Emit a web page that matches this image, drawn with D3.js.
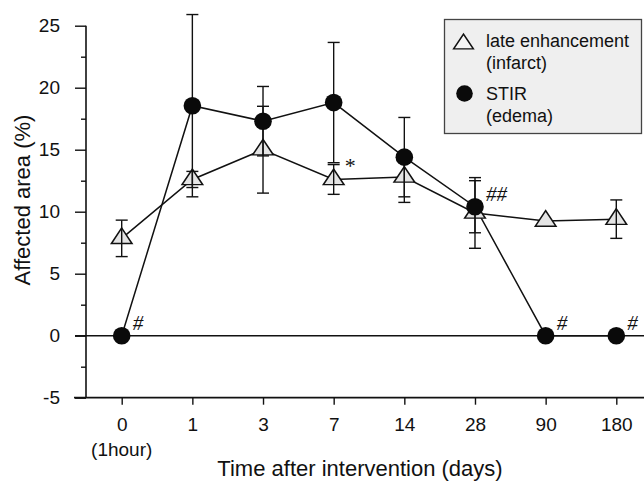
<!DOCTYPE html>
<html>
<head>
<meta charset="utf-8">
<script src="https://cdn.jsdelivr.net/npm/d3@7"></script>
<style>
  body { margin: 0; background: #fff; }
  svg { display: block; font-family: "Liberation Sans", Arial, sans-serif; }
</style>
</head>
<body>
<div id="chart"></div>
<script>
// categories on the x axis (days after intervention)
var categories = ["0", "1", "3", "7", "14", "28", "90", "180"];
var subLabels = ["(1hour)", "", "", "", "", "", "", ""];

// late enhancement (infarct), mean and error
var lateEnh = [7.85, 12.6, 15.0, 12.6, 12.8, 9.9, 9.25, 9.4];
var lateEnhErr = [1.47, 0.65, 3.5, 1.2, 2.05, 2.85, 0, 1.55];

// STIR (edema), mean and error
var stir = [0, 18.55, 17.3, 18.8, 14.4, 10.4, 0, 0];
var stirErr = [0, 7.35, 2.8, 4.85, 3.2, 2.1, 0, 0];

// y ticks
var majorTicks = [-5, 0, 5, 10, 15, 20, 25];
var minorTicks = [-2.5, 2.5, 7.5, 12.5, 17.5, 22.5];

// significance marks
var markCats = ["0", "7", "28", "90", "180"];
var markValues = [0, 12.6, 10.4, 0, 0];
var markTexts = ["#", "*", "##", "#", "#"];

var legendLabels = [["late enhancement", "(infarct)"], ["STIR", "(edema)"]];

var width = 644, height = 482;

var svg = d3.select("#chart").append("svg")
  .attr("width", width)
  .attr("height", height);

var x = d3.scalePoint().domain(categories).range([121.7, 616.3]);
var y = d3.scaleLinear().domain([-5, 25]).range([397.7, 25.7]);
var axisX = 86;

// y axis: minor then major ticks
svg.append("g")
  .attr("transform", "translate(" + axisX + ",0)")
  .call(d3.axisLeft(y).tickValues(minorTicks).tickSize(5).tickFormat(""))
  .call(function(g) { g.select(".domain").remove(); })
  .selectAll("line").attr("stroke", "#111").attr("stroke-width", 1.4);

var yAxis = svg.append("g")
  .attr("transform", "translate(" + axisX + ",0)")
  .call(d3.axisLeft(y).tickValues(majorTicks).tickSize(11).tickPadding(15)
    .tickFormat(function(d) { return String(d); }));
yAxis.select(".domain").remove();
yAxis.selectAll("line").attr("stroke", "#111").attr("stroke-width", 1.4);
yAxis.selectAll("text")
  .attr("font-size", 19)
  .attr("font-family", "Liberation Sans, Arial, sans-serif")
  .attr("fill", "#111");

svg.append("line")
  .attr("x1", axisX).attr("x2", axisX)
  .attr("y1", y(25)).attr("y2", y(-5))
  .attr("stroke", "#111").attr("stroke-width", 1.6);

// x axis at the bottom (-5) and zero line
var xAxis = svg.append("g")
  .attr("transform", "translate(0," + y(-5) + ")")
  .call(d3.axisBottom(x).tickSize(7).tickPadding(13));
xAxis.select(".domain").remove();
xAxis.selectAll("line").attr("stroke", "#111").attr("stroke-width", 1.4);
xAxis.selectAll("text")
  .attr("font-size", 19)
  .attr("font-family", "Liberation Sans, Arial, sans-serif")
  .attr("fill", "#111");

svg.append("line")
  .attr("x1", 74).attr("x2", width)
  .attr("y1", y(-5)).attr("y2", y(-5))
  .attr("stroke", "#111").attr("stroke-width", 1.7);

svg.append("line")
  .attr("x1", 75).attr("x2", width)
  .attr("y1", y(0)).attr("y2", y(0))
  .attr("stroke", "#111").attr("stroke-width", 1.6);

svg.selectAll(".sublabel")
  .data(categories)
  .enter().append("text")
  .attr("class", "sublabel")
  .attr("x", function(d) { return x(d); })
  .attr("y", 456)
  .attr("text-anchor", "middle")
  .attr("font-size", 19)
  .attr("fill", "#111")
  .text(function(d, i) { return subLabels[i]; });

// axis titles
svg.append("text")
  .attr("x", 360)
  .attr("y", 476)
  .attr("text-anchor", "middle")
  .attr("font-size", 22)
  .attr("fill", "#111")
  .text("Time after intervention (days)");

svg.append("text")
  .attr("transform", "translate(30,200) rotate(-90)")
  .attr("text-anchor", "middle")
  .attr("font-size", 22)
  .attr("fill", "#111")
  .text("Affected area (%)");

// connecting lines
var line = d3.line()
  .x(function(d, i) { return x(categories[i]); })
  .y(function(d) { return y(d); });

svg.append("path")
  .datum(lateEnh)
  .attr("d", line)
  .attr("fill", "none")
  .attr("stroke", "#111")
  .attr("stroke-width", 1.5);

svg.append("path")
  .datum(stir)
  .attr("d", line)
  .attr("fill", "none")
  .attr("stroke", "#111")
  .attr("stroke-width", 1.5);

var triangle = d3.symbol().type(d3.symbolTriangle).size(140);

svg.selectAll(".tri")
  .data(lateEnh)
  .enter().append("path")
  .attr("class", "tri")
  .attr("d", triangle)
  .attr("transform", function(d, i) {
    return "translate(" + x(categories[i]) + "," + y(d) + ") scale(1.15,1)";
  })
  .attr("fill", "#e4e4e4")
  .attr("stroke", "#111")
  .attr("stroke-width", 1.4);

// error bars
function drawErrors(values, errs) {
  var g = svg.append("g").attr("stroke", "#111").attr("stroke-width", 1.4);
  values.forEach(function(v, i) {
    if (!errs[i]) return;
    var cx = x(categories[i]);
    var top = y(v + errs[i]), bottom = y(v - errs[i]);
    g.append("line").attr("x1", cx).attr("x2", cx).attr("y1", top).attr("y2", bottom);
    g.append("line").attr("x1", cx - 6).attr("x2", cx + 6).attr("y1", top).attr("y2", top);
    g.append("line").attr("x1", cx - 6).attr("x2", cx + 6).attr("y1", bottom).attr("y2", bottom);
  });
}
drawErrors(lateEnh, lateEnhErr);
drawErrors(stir, stirErr);

svg.selectAll(".dot")
  .data(stir)
  .enter().append("circle")
  .attr("class", "dot")
  .attr("cx", function(d, i) { return x(categories[i]); })
  .attr("cy", function(d) { return y(d); })
  .attr("r", 8.8)
  .attr("fill", "#0a0a0a");

// significance marks
svg.selectAll(".mark")
  .data(markTexts)
  .enter().append("text")
  .attr("class", "mark")
  .attr("x", function(d, i) { return x(markCats[i]) + 11; })
  .attr("y", function(d, i) { return y(markValues[i]) - 6; })
  .attr("font-family", "Liberation Serif, Times New Roman, serif")
  .attr("font-style", function(d) { return d == "*" ? "normal" : "italic"; })
  .attr("font-size", function(d) { return d == "*" ? 22 : 21; })
  .attr("fill", "#111")
  .text(function(d) { return d; });

// legend
var legend = svg.append("g");
legend.append("rect")
  .attr("x", 444.5).attr("y", 19.5)
  .attr("width", 197).attr("height", 114)
  .attr("fill", "#efefef")
  .attr("stroke", "#444")
  .attr("stroke-width", 1.3);

legend.append("path")
  .attr("d", triangle)
  .attr("transform", "translate(463.5,44) scale(1.1,0.95)")
  .attr("fill", "#f6f6f6")
  .attr("stroke", "#111")
  .attr("stroke-width", 1.4);

legend.append("circle")
  .attr("cx", 464.5).attr("cy", 93.5).attr("r", 8.3)
  .attr("fill", "#0a0a0a");

legendLabels.forEach(function(lines, i) {
  lines.forEach(function(t, j) {
    legend.append("text")
      .attr("x", 486)
      .attr("y", 47 + i * 53 + j * 21.5)
      .attr("font-size", 18)
      .attr("fill", "#111")
      .text(t);
  });
});
</script>
</body>
</html>
